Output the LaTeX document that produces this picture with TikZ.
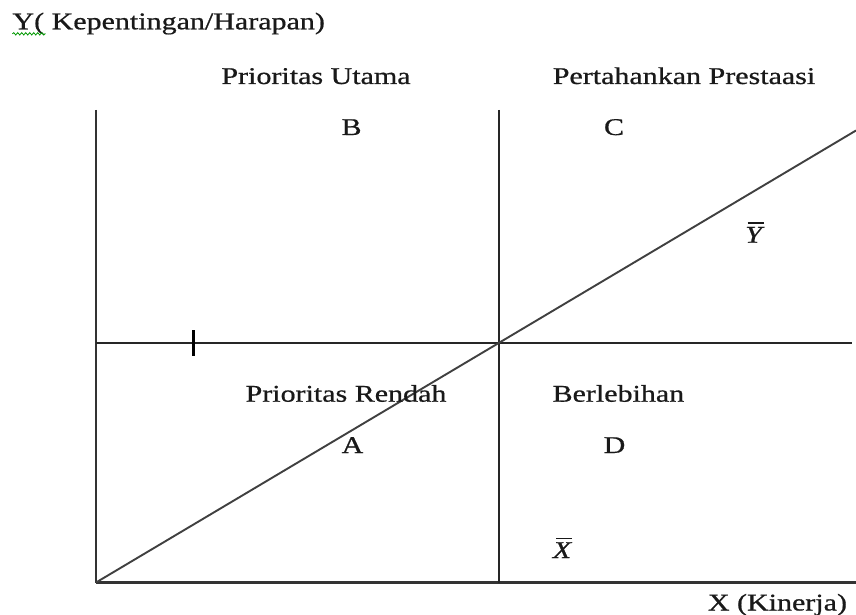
\documentclass[tikz,border=0pt]{standalone}
\usepackage{fontspec}
\setmainfont[FakeStretch=1.25,FakeBold=0.7]{Liberation Serif}
\usetikzlibrary{decorations.pathmorphing}
\begin{document}
\begin{tikzpicture}[x=1pt,y=-1pt,
  lbl/.style={inner sep=0pt,outer sep=0pt,font=\fontsize{24}{28}\selectfont,text=black!90},
  axis/.style={draw=black!80,line width=2.8pt},
  midline/.style={draw=black!85,line width=2pt},
  diag/.style={draw=black!75,line width=1.9pt},
  barline/.style={draw=black!90,line width=1.4pt}]
\useasboundingbox[fill=white] (0,0) rectangle (856,615);
% coordinates
\coordinate (O) at (96,582.5);
\coordinate (Ytop) at (96,110);
\coordinate (Xend) at (856,582.5);
\coordinate (Mtop) at (499,110);
\coordinate (Mbot) at (499,582.5);
\coordinate (Hl) at (96,342.5);
\coordinate (Hr) at (852,342.5);
\coordinate (Dend) at (856,130.5);
\coordinate (Ttop) at (193.5,330);
\coordinate (Tbot) at (193.5,355.5);
% lines
\draw[axis] (Ytop) -- (O);
\draw[axis] (O) -- (Xend);
\draw[midline] (Mtop) -- (Mbot);
\draw[midline] (Hl) -- (Hr);
\draw[diag] (O) -- (Dend);
\draw[draw=black,line width=3.8pt] (Ttop) -- (Tbot);
% texts
\node[lbl,anchor=base west] (ytitle) at (12.5,29.3) {Y( Kepentingan/Harapan)};
\draw[green!60!black,line width=0.8pt,decorate,decoration={snake,amplitude=1.2pt,segment length=4pt}]
  ([yshift=-4.5pt]ytitle.base west) -- ([xshift=33pt,yshift=-4.5pt]ytitle.base west);
\node[lbl,anchor=base] (pu) at (316,84) {Prioritas Utama};
\node[lbl,anchor=base] (pp) at (684,84) {Pertahankan Prestaasi};
\node[lbl,anchor=base] (b) at (351.5,135) {B};
\node[lbl,anchor=base] (c) at (614,135) {C};
\node[lbl,anchor=base] (ybar) at (753.5,242.7) {\itshape Y};
\draw[barline] ([xshift=-6pt,yshift=4pt]ybar.north) -- ([xshift=10pt,yshift=4pt]ybar.north);
\node[lbl,anchor=base] (pr) at (346,401.7) {Prioritas Rendah};
\node[lbl,anchor=base] (bl) at (618.4,401.7) {Berlebihan};
\node[lbl,anchor=base] (a) at (352.5,453) {A};
\node[lbl,anchor=base] (d) at (614.5,453) {D};
\node[lbl,anchor=base] (xbar) at (562,558) {\itshape X};
\draw[barline] ([xshift=-6pt,yshift=4pt]xbar.north) -- ([xshift=10pt,yshift=4pt]xbar.north);
\node[lbl,anchor=base east] (xlab) at (847,610.5) {X (Kinerja)};
\end{tikzpicture}
\end{document}
